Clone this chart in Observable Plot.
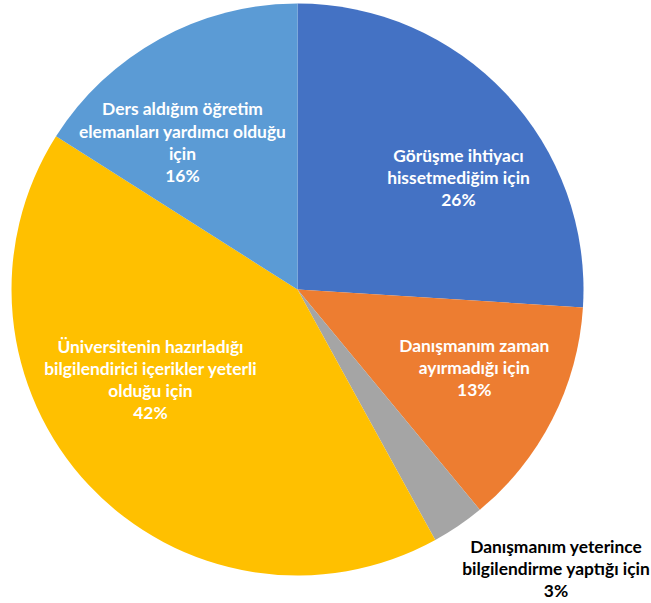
<!DOCTYPE html>
<html>
<head>
<meta charset="utf-8">
<script src="https://cdn.jsdelivr.net/npm/d3@7"></script>
<script src="https://cdn.jsdelivr.net/npm/@observablehq/plot@0.6"></script>
<style>
  html, body { margin: 0; padding: 0; background: #fff; }
  #chart { width: 651px; height: 603px; }
</style>
</head>
<body>
<div id="chart"></div>
<script>
// ---- data ----
const categories = [
  "Görüşme ihtiyacı hissetmediğim için",
  "Danışmanım zaman ayırmadığı için",
  "Danışmanım yeterince bilgilendirme yaptığı için",
  "Üniversitenin hazırladığı bilgilendirici içerikler yeterli olduğu için",
  "Ders aldığım öğretim elemanları yardımcı olduğu için"
];
const values = [26, 13, 3, 42, 16];
const displayLabels = [
  "Görüşme ihtiyacı\nhissetmediğim için",
  "Danışmanım zaman\nayırmadığı için",
  "Danışmanım yeterince\nbilgilendirme yaptığı için",
  "Üniversitenin hazırladığı\nbilgilendirici içerikler yeterli\nolduğu için",
  "Ders aldığım öğretim\nelemanları yardımcı olduğu\niçin"
];
const colors = ["#4472C4", "#ED7D31", "#A5A5A5", "#FFC000", "#5B9BD5"];

// ---- layout ----
const W = 651, H = 603;
const cx = 297.5, cy = 289.5, R = 286;
const labelR = 190;
// per-label nudges (layout only)
const nudges = [[22, 17], [7, -9], [258, 278], [-9, -41], [-24, 18]];
const labelFill = ["white", "white", "black", "white", "white"];

const pie = d3.pie().sort(null).value(d => d.value).startAngle(0).endAngle(2 * Math.PI);
const rows = categories.map((c, i) => ({category: c, value: values[i], label: displayLabels[i] + "\n" + values[i] + "%", i}));
const arcs = pie(rows);
const labelArc = d3.arc().innerRadius(labelR).outerRadius(labelR);

const labelRows = arcs.map((a, i) => {
  let [lx, ly] = labelArc.centroid(a);
  if (i === 2) { lx = 0; ly = 0; }
  return {x: cx + lx + nudges[i][0], y: cy + ly + nudges[i][1], text: a.data.label, fill: labelFill[i]};
});

function pieMark(index, scales, values, dimensions, context) {
  const g = d3.create("svg:g");
  const x0 = scales.x(cx), y0 = scales.y(cy);
  const r = scales.x(cx + R) - x0;
  const arc = d3.arc().innerRadius(0).outerRadius(r);
  g.selectAll("path")
    .data(arcs)
    .join("path")
    .attr("transform", `translate(${x0},${y0})`)
    .attr("d", arc)
    .attr("fill", d => scales.color(d.data.category));
  return g.node();
}

const chart = Plot.plot({
  width: W,
  height: H,
  margin: 0,
  x: {domain: [0, W], range: [0, W], axis: null},
  y: {domain: [0, H], range: [0, H], axis: null},
  color: {domain: categories, range: colors},
  style: {fontFamily: "Lato, 'Open Sans', sans-serif", background: "white"},
  marks: [
    pieMark,
    Plot.text(labelRows, {
      x: "x", y: "y", text: "text",
      fill: d => d.fill,
      fontSize: 17.4, fontWeight: "bold",
      lineHeight: 1.27,
      textAnchor: "middle",
      lineAnchor: "middle"
    })
  ]
});
document.getElementById("chart").appendChild(chart);
</script>
</body>
</html>
